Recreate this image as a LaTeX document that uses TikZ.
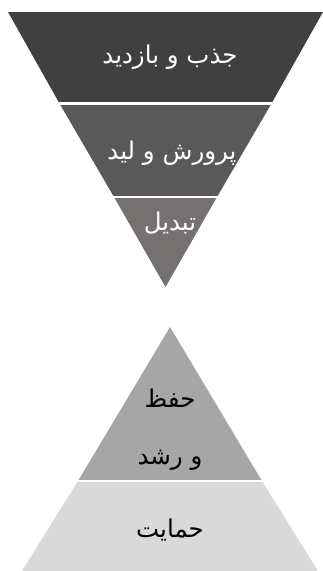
\documentclass[tikz,border=0pt]{standalone}
\usepackage{fontspec}
\newfontfamily\arabicfont[Script=Arabic]{DejaVu Sans}
\TeXXeTstate=1
\definecolor{bandA}{HTML}{404040}
\definecolor{bandB}{HTML}{595959}
\definecolor{bandC}{HTML}{767171}
\definecolor{bandD}{HTML}{A6A6A6}
\definecolor{bandE}{HTML}{D9D9D9}
\begin{document}
\begin{tikzpicture}[x=1pt,y=-1pt,
  wlabel/.style={text=white,font=\arabicfont\fontsize{24.5}{28}\selectfont,inner sep=0pt},
  blabel/.style={text=black,font=\arabicfont\fontsize{24.5}{28}\selectfont,inner sep=0pt},
  sep/.style={white,line width=2.5pt}]
\useasboundingbox (0,0) rectangle (323,571);
% inverted funnel
\fill[bandA] (8,12) -- (323,12) -- (271.5,103.5) -- (59.5,103.5) -- cycle;
\fill[bandB] (59.5,103.5) -- (271.5,103.5) -- (217,197) -- (114,197) -- cycle;
\fill[bandC] (114,197) -- (217,197) -- (165.5,287) -- cycle;
\draw[sep] (50,103.5) -- (280,103.5);
\draw[sep] (105,197) -- (225,197);
% pyramid
\fill[bandD] (170,327) -- (262,481) -- (78,481) -- cycle;
\fill[bandE] (78,481) -- (262,481) -- (318,571) -- (22,571) -- cycle;
\draw[sep] (70,481) -- (270,481);
% labels
\node[wlabel] (t1) at (170,57) {\beginR جذب و بازدید\endR};
\node[wlabel] (t2) at (172,153) {\beginR پرورش و لید\endR};
\node[wlabel] (t3) at (170,223) {\beginR تبدیل\endR};
\node[blabel] (b1) at (170,398) {\beginR حفظ\endR};
\node[blabel] (b2) at (170,460) {\beginR و رشد\endR};
\node[blabel] (b3) at (170,530) {\beginR حمایت\endR};
\end{tikzpicture}
\end{document}
